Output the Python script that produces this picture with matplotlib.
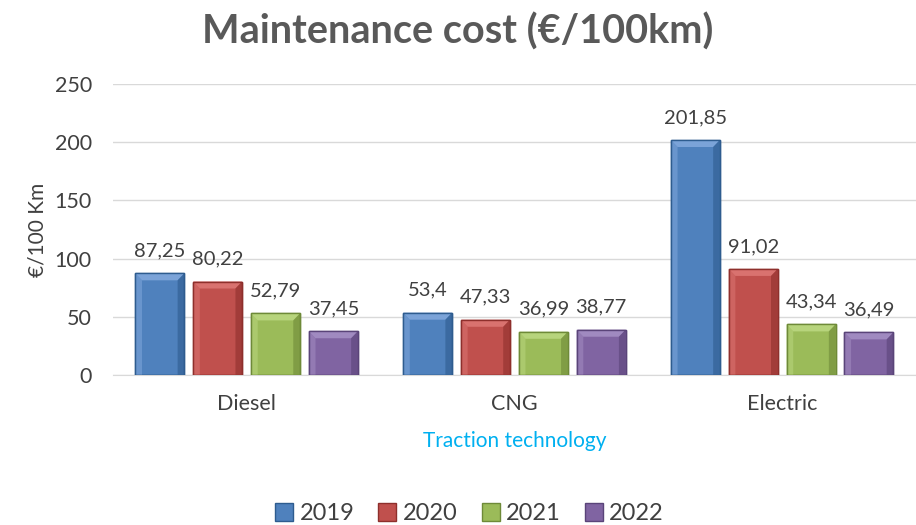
import numpy as np
import matplotlib
matplotlib.use('Agg')
import matplotlib.pyplot as plt
from matplotlib.patches import Polygon
from matplotlib.lines import Line2D

plt.rcParams['font.family'] = ['Lato', 'DejaVu Sans']

categories = ['Diesel', 'CNG', 'Electric']
years = ['2019', '2020', '2021', '2022']
cost_2019 = [87.25, 53.4, 201.85]
cost_2020 = [80.22, 47.33, 91.02]
cost_2021 = [52.79, 36.99, 43.34]
cost_2022 = [37.45, 38.77, 36.49]
labels_2019 = ['87,25', '53,4', '201,85']
labels_2020 = ['80,22', '47,33', '91,02']
labels_2021 = ['52,79', '36,99', '43,34']
labels_2022 = ['37,45', '38,77', '36,49']

series = [cost_2019, cost_2020, cost_2021, cost_2022]
series_labels = [labels_2019, labels_2020, labels_2021, labels_2022]
colors = ['#4F81BD', '#C0504D', '#9BBB59', '#8064A2']
light = ['#7BA3D8', '#D9726F', '#B7D47C', '#A08AC0']
dark = ['#2E5C8F', '#8E2F2C', '#6E8A38', '#5A4479']

fig = plt.figure(figsize=(9.16, 5.25), dpi=100)
ax = fig.add_axes([0.123, 0.286, 0.877, 0.554])

x = np.arange(len(categories))
step = 0.216
width = 0.183
txtc = '#404040'

for i, vals in enumerate(series):
    pos = x + (i - 1.5) * step
    bars = ax.bar(pos, vals, width, color=colors[i], edgecolor=dark[i], linewidth=1.0, zorder=3)
    for b, lab in zip(bars, series_labels[i]):
        x0, w, h = b.get_x(), b.get_width(), b.get_height()
        bev = 0.025
        bh = 6.0
        # bevel: light top and left, darker right
        ax.add_patch(Polygon([[x0, h], [x0 + w, h], [x0 + w - bev, h - bh], [x0 + bev, h - bh]],
                             closed=True, color=light[i], zorder=4, lw=0))
        ax.add_patch(Polygon([[x0, h], [x0 + bev, h - bh], [x0 + bev, 0], [x0, 0]],
                             closed=True, color=light[i], alpha=0.6, zorder=4, lw=0))
        ax.add_patch(Polygon([[x0 + w, h], [x0 + w - bev, h - bh], [x0 + w - bev, 0], [x0 + w, 0]],
                             closed=True, color=dark[i], alpha=0.6, zorder=4, lw=0))
        ax.add_patch(Polygon([[x0, h], [x0 + w, h], [x0 + w, 0], [x0, 0]],
                             closed=True, fill=False, edgecolor=dark[i], lw=1.0, zorder=5))
        ax.text(x0 + w / 2, h + 12, lab, ha='center', va='bottom', fontsize=14.5, color=txtc)

ax.set_xlim(-0.5, 2.5)
ax.set_ylim(0, 250)
ax.set_yticks([0, 50, 100, 150, 200, 250])
ax.set_xticks(x)
ax.set_xticklabels(categories)
ax.tick_params(axis='both', length=0, labelsize=15.5, colors=txtc)
ax.tick_params(axis='y', pad=15)
ax.tick_params(axis='x', pad=14)
ax.grid(axis='y', color='#D9D9D9', linewidth=1, zorder=0)
for s in ['top', 'right', 'left']:
    ax.spines[s].set_visible(False)
ax.spines['bottom'].set_color('#D9D9D9')

ax.set_ylabel('€/100 Km', fontsize=15, color=txtc, labelpad=5)
ax.set_xlabel('Traction technology', fontsize=15, color='#00B0F0', labelpad=12)

fig.text(0.5, 0.94, 'Maintenance cost (€/100km)', ha='center', va='center',
         fontsize=28.5, fontweight='bold', color='#595959')

handles = [Line2D([], [], marker='s', linestyle='none', markersize=13,
                  markerfacecolor=colors[i], markeredgecolor=dark[i]) for i in range(4)]
fig.legend(handles, years, loc='center', bbox_to_anchor=(0.509, 0.022), ncol=4, frameon=False,
           fontsize=17, labelcolor=txtc, handletextpad=0.0, columnspacing=0.75,
           handlelength=1.3)

fig.savefig('out.png', dpi=100)
